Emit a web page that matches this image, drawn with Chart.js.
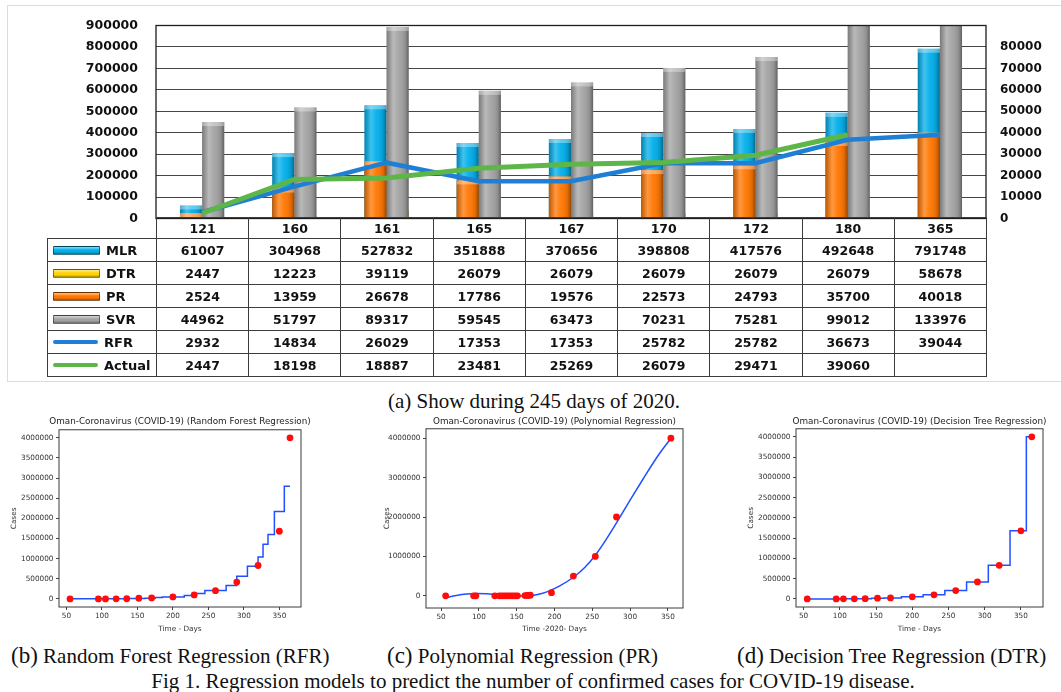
<!DOCTYPE html>
<html>
<head>
<meta charset="utf-8">
<script src="https://cdn.jsdelivr.net/npm/chart.js@4.4.1/dist/chart.umd.min.js"></script>
<style>
  body { margin: 0; width: 1061px; height: 692px; background: #fff; position: relative; overflow: hidden; font-family: "DejaVu Sans", sans-serif; }
  .abs { position: absolute; }
  #box { left: 7px; top: 5px; width: 1060px; height: 377px; border: 1.5px solid #dcdcdc; box-sizing: border-box; }
  #grid { left: 47px; top: 217px; width: 939px; border-collapse: collapse; table-layout: fixed; font: bold 12.5px "DejaVu Sans", sans-serif; color: #111; }
  #grid td { border: 1px solid #3c3c3c; text-align: center; padding: 0; height: 22px; white-space: nowrap; }
  #grid tr.head td { height: 20px; }
  #grid td.blank { border-top: none; border-left: none; }
  #grid td.name { text-align: left; padding-left: 5px; font-size: 13px; }
  .ico { display: inline-block; width: 45px; vertical-align: middle; margin-right: 6px; position: relative; top: -1px; }
  .cap { font-family: "Liberation Serif", "Times New Roman", serif; font-size: 21px; color: #111; white-space: nowrap; line-height: 24px; }
  .cap .tag { font-size: 23px; }
</style>
</head>
<body>
<div id="box" class="abs"></div>
<div class="abs" style="left:0;top:0;width:1061px;height:244px"><canvas id="top"></canvas></div>
<table id="grid" class="abs"></table>
<div class="abs cap" style="left:0;width:1068px;top:389px;text-align:center">(a) Show during 245 days of 2020.</div>

<div class="abs" style="left:0;top:400px;width:360px;height:240px"><canvas id="rfrChart"></canvas></div>
<div class="abs" style="left:376px;top:400px;width:357px;height:240px"><canvas id="prChart"></canvas></div>
<div class="abs" style="left:737px;top:400px;width:365px;height:240px"><canvas id="dtrChart"></canvas></div>

<div class="abs cap" style="left:11px;top:644px"><span class="tag">(b)</span> Random Forest Regression (RFR)</div>
<div class="abs cap" style="left:387px;top:644px"><span class="tag">(c)</span> Polynomial Regression (PR)</div>
<div class="abs cap" style="left:737px;top:644px"><span class="tag">(d)</span> Decision Tree Regression (DTR)</div>
<div class="abs cap" style="left:0;width:1066px;top:669px;text-align:center">Fig 1. Regression models to predict the number of confirmed cases for COVID-19 disease.</div>

<script>
// ── Data: comparison of models (panel a) ────────────────────────────
const days   = ['121', '160', '161', '165', '167', '170', '172', '180', '365'];
const mlr    = [61007, 304968, 527832, 351888, 370656, 398808, 417576, 492648, 791748];
const dtr    = [2447, 12223, 39119, 26079, 26079, 26079, 26079, 26079, 58678];
const pr     = [2524, 13959, 26678, 17786, 19576, 22573, 24793, 35700, 40018];
const svr    = [44962, 51797, 89317, 59545, 63473, 70231, 75281, 99012, 133976];
const rfr    = [2932, 14834, 26029, 17353, 17353, 25782, 25782, 36673, 39044];
const actual = [2447, 18198, 18887, 23481, 25269, 26079, 29471, 39060, null];
const leftTicks  = [0, 100000, 200000, 300000, 400000, 500000, 600000, 700000, 800000, 900000];
const rightTicks = [0, 10000, 20000, 30000, 40000, 50000, 60000, 70000, 80000];

// ── Data: regression plots (panels b, c, d) ─────────────────────────
const obsDays  = [55, 95, 105, 120, 135, 152, 170, 200, 230, 260, 290, 320, 350, 365];
const obsCases = [0, 500, 1000, 2500, 5000, 17000, 25000, 50000, 100000, 205000, 420000, 830000, 1680000, 4000000];

const rfrStepDays  = [55, 137, 160, 175, 185, 216, 230, 245, 275, 290, 305, 320, 327, 334, 343, 357, 365];
const rfrStepCases = [5000, 12000, 20000, 35000, 50000, 85000, 135000, 210000, 335000, 565000, 810000, 1040000, 1360000, 1600000, 2170000, 2800000, 2800000];

const dtrStepDays  = [55, 75, 100, 112.5, 127.5, 143.5, 161, 185, 215, 245, 275, 305, 335, 357.5, 365];
const dtrStepCases = [0, 500, 1000, 2500, 5000, 17000, 25000, 50000, 100000, 205000, 420000, 830000, 1680000, 4000000, 4000000];

const prDays  = [56, 93, 96, 121, 127, 130, 133, 136, 139, 142, 145, 148, 151, 161, 164, 166, 168, 196, 225, 254, 282, 354];
const prCases = [0, 0, 0, 0, 0, 0, 0, 0, 0, 0, 0, 0, 0, 5000, 8000, 12000, 15000, 80000, 500000, 1000000, 2000000, 4000000];
const prFitDays  = [56, 70, 84, 97, 110, 124, 137, 150, 163, 176, 190, 207, 225, 240, 254, 268, 282, 300, 318, 336, 354];
const prFitCases = [-51000, 10000, 48000, 58000, 50000, 28000, 8000, -6000, -6000, 25000, 100000, 250000, 470000, 717000, 1030000, 1420000, 1850000, 2430000, 2990000, 3530000, 4000000];

const smallXTicks = [50, 100, 150, 200, 250, 300, 350];
const halfMillionTicks = [0, 500000, 1000000, 1500000, 2000000, 2500000, 3000000, 3500000, 4000000];
const millionTicks = [0, 1000000, 2000000, 3000000, 4000000];

const colors = {
  MLR: '#00aeea', DTR: '#ffd200', PR: '#ff7600', SVR: '#a2a2a2', RFR: '#1f7fd4', Actual: '#5db648'
};

// ── Plugins ─────────────────────────────────────────────────────────
const framePlugin = {
  id: 'frame',
  afterDraw(chart, args, opts) {
    const a = chart.chartArea, ctx = chart.ctx;
    ctx.save();
    ctx.strokeStyle = opts.color || '#333';
    ctx.lineWidth = opts.width || 1;
    ctx.strokeRect(a.left, a.top, a.right - a.left, a.bottom - a.top);
    ctx.restore();
  }
};

// cylinder-like shading on top of each bar
const shadePlugin = {
  id: 'shade',
  afterDatasetDraw(chart, args) {
    const meta = args.meta;
    if (meta.type !== 'bar') return;
    const ctx = chart.ctx, a = chart.chartArea;
    ctx.save();
    ctx.beginPath();
    ctx.rect(a.left, a.top, a.right - a.left, a.bottom - a.top);
    ctx.clip();
    meta.data.forEach(el => {
      const p = el.getProps(['x', 'y', 'base', 'width'], true);
      const left = p.x - p.width / 2;
      const top = Math.min(p.y, p.base), h = Math.abs(p.base - p.y);
      const g = ctx.createLinearGradient(left, 0, left + p.width, 0);
      g.addColorStop(0, 'rgba(0,0,0,0.25)');
      g.addColorStop(0.3, 'rgba(255,255,255,0.25)');
      g.addColorStop(0.55, 'rgba(255,255,255,0.05)');
      g.addColorStop(0.85, 'rgba(0,0,0,0.12)');
      g.addColorStop(1, 'rgba(0,0,0,0.4)');
      ctx.fillStyle = g;
      ctx.fillRect(left, top, p.width, h);
      ctx.fillStyle = 'rgba(255,255,255,0.35)';
      ctx.fillRect(left, top, p.width, Math.min(4, h));
    });
    ctx.restore();
  }
};

// ── Panel (a): bars + lines ─────────────────────────────────────────
const boldTick = size => ({ family: 'DejaVu Sans', size: size, weight: 'bold' });

new Chart(document.getElementById('top'), {
  type: 'bar',
  data: {
    labels: days,
    datasets: [
      { label: 'Actual', type: 'line', data: actual, yAxisID: 'y1', borderColor: colors.Actual, borderWidth: 5, pointRadius: 0, tension: 0, order: 0 },
      { label: 'RFR', type: 'line', data: rfr, yAxisID: 'y1', borderColor: colors.RFR, borderWidth: 4.5, pointRadius: 0, tension: 0, order: 1 },
      { label: 'PR', data: pr, yAxisID: 'y1', stack: 'a', backgroundColor: colors.PR, order: 2 },
      { label: 'SVR', data: svr, yAxisID: 'y1', stack: 'b', backgroundColor: colors.SVR, order: 2 },
      { label: 'MLR', data: mlr, yAxisID: 'y', stack: 'a', backgroundColor: colors.MLR, order: 3 },
      { label: 'DTR', data: dtr, yAxisID: 'y', stack: 'b', backgroundColor: colors.DTR, order: 3 }
    ]
  },
  options: {
    animation: false,
    responsive: true,
    maintainAspectRatio: false,
    categoryPercentage: 0.48,
    barPercentage: 1,
    layout: { padding: { top: 25, bottom: 15, left: 0, right: 0 } },
    plugins: { legend: { display: false }, tooltip: { enabled: false }, frame: { color: '#1e1e1e', width: 1.3 } },
    scales: {
      x: { display: false },
      y: {
        position: 'left', min: 0, max: 900000, stacked: false,
        afterFit: s => { s.width = 156; },
        afterBuildTicks: s => { s.ticks = leftTicks.map(v => ({ value: v })); },
        grid: { color: '#454545', lineWidth: 1, drawTicks: false },
        border: { display: false },
        ticks: { padding: 18, color: '#111', font: boldTick(12.5), callback: v => String(v) }
      },
      y1: {
        position: 'right', min: 0, max: 90000, stacked: false,
        afterFit: s => { s.width = 75; },
        afterBuildTicks: s => { s.ticks = rightTicks.map(v => ({ value: v })); },
        grid: { display: false, drawTicks: false },
        border: { display: false },
        ticks: { padding: 14, color: '#111', font: boldTick(12), callback: v => String(v) }
      }
    }
  },
  plugins: [framePlugin, shadePlugin]
});

// ── Panel (a): data table under the chart ───────────────────────────
const tableRows = [
  { name: 'MLR', kind: 'bar', values: mlr },
  { name: 'DTR', kind: 'bar', values: dtr },
  { name: 'PR', kind: 'bar', values: pr },
  { name: 'SVR', kind: 'bar', values: svr },
  { name: 'RFR', kind: 'line', values: rfr },
  { name: 'Actual', kind: 'line', values: actual }
];

function iconHTML(row) {
  const c = colors[row.name];
  if (row.kind === 'line') {
    return `<span class="ico" style="height:4px;border-radius:2px;background:${c}"></span>`;
  }
  return `<span class="ico" style="height:7px;border:1px solid rgba(0,0,0,0.45);border-radius:1px;` +
    `background:linear-gradient(to bottom, rgba(255,255,255,0.55), ${c} 45%, ${c} 70%, rgba(0,0,0,0.35)), ${c}"></span>`;
}

const grid = document.getElementById('grid');
let html = '<colgroup><col style="width:109px">' + days.map(() => '<col style="width:92.22px">').join('') + '</colgroup>';
html += '<tr class="head"><td class="blank"></td>' + days.map(d => `<td>${d}</td>`).join('') + '</tr>';
tableRows.forEach(row => {
  html += `<tr><td class="name">${iconHTML(row)}${row.name}</td>` +
    row.values.map(v => `<td>${v === null ? '' : v}</td>`).join('') + '</tr>';
});
grid.innerHTML = html;

// ── Panels (b)(c)(d): matplotlib-like regression plots ──────────────
const pts = (xs, ys) => xs.map((x, i) => ({ x: x, y: ys[i] }));
const smallFont = size => ({ family: 'DejaVu Sans', size: size, weight: 'normal' });

// an empty right-hand axis as wide as the left one keeps the title centred over the axes
function regressionChart(id, opt) {
  return new Chart(document.getElementById(id), {
    type: 'line',
    data: { datasets: opt.datasets },
    options: {
      animation: false,
      responsive: true,
      maintainAspectRatio: false,
      layout: { padding: 0 },
      plugins: {
        legend: { display: false },
        tooltip: { enabled: false },
        title: { display: true, text: opt.title, color: '#222', font: smallFont(8.8), padding: { top: 16, bottom: opt.titleBottom } },
        frame: { color: '#3a3a3a', width: 1 }
      },
      scales: {
        x: {
          type: 'linear', min: opt.xMin, max: opt.xMax,
          afterFit: s => { s.height = opt.xHeight; },
          afterBuildTicks: s => { s.ticks = smallXTicks.map(v => ({ value: v })); },
          grid: { drawOnChartArea: false, drawTicks: true, tickLength: 3, color: '#444' },
          border: { display: false },
          ticks: { padding: 2, color: '#333', font: smallFont(7.3), maxRotation: 0 },
          title: { display: true, text: opt.xTitle, color: '#333', font: smallFont(7.3), padding: { top: 0, bottom: 7 } }
        },
        y: {
          min: opt.yMin, max: opt.yMax,
          afterFit: s => { s.width = opt.yWidth; },
          afterBuildTicks: s => { s.ticks = opt.yTicks.map(v => ({ value: v })); },
          grid: { drawOnChartArea: false, drawTicks: true, tickLength: 3, color: '#444' },
          border: { display: false },
          ticks: { padding: 2.5, color: '#333', font: smallFont(7.3), callback: v => String(v) },
          title: { display: true, text: 'Cases', color: '#333', font: smallFont(7.3), padding: { top: opt.yTitlePad, bottom: 0 } }
        },
        spacer: {
          position: 'right',
          afterFit: s => { s.width = opt.yWidth; },
          ticks: { display: false },
          grid: { display: false, drawTicks: false },
          border: { display: false }
        }
      }
    },
    plugins: [framePlugin]
  });
}

const redDots = (xs, ys) => ({ data: pts(xs, ys), showLine: false, pointRadius: 3.4, pointBorderWidth: 0, pointBackgroundColor: '#ff0d0d', order: 0 });
const blueLine = (xs, ys, extra) => Object.assign({ data: pts(xs, ys), borderColor: '#2050ff', borderWidth: 1.5, pointRadius: 0, order: 1 }, extra);

regressionChart('rfrChart', {
  title: 'Oman-Coronavirus (COVID-19) (Random Forest Regression)',
  xTitle: 'Time - Days',
  datasets: [redDots(obsDays, obsCases), blueLine(rfrStepDays, rfrStepCases, { stepped: true })],
  xMin: 39.5, xMax: 380.5, yMin: -200000, yMax: 4200000, yTicks: halfMillionTicks,
  yWidth: 59, xHeight: 33, titleBottom: 3.2, yTitlePad: 10
});

regressionChart('prChart', {
  title: 'Oman-Coronavirus (COVID-19) (Polynomial Regression)',
  xTitle: 'Time -2020- Days',
  datasets: [redDots(prDays, prCases), blueLine(prFitDays, prFitCases, { cubicInterpolationMode: 'monotone' })],
  xMin: 30, xMax: 370, yMin: -310000, yMax: 4240000, yTicks: millionTicks,
  yWidth: 50, xHeight: 32, titleBottom: 2.2, yTitlePad: 7
});

regressionChart('dtrChart', {
  title: 'Oman-Coronavirus (COVID-19) (Decision Tree Regression)',
  xTitle: 'Time - Days',
  datasets: [redDots(obsDays, obsCases), blueLine(dtrStepDays, dtrStepCases, { stepped: true })],
  xMin: 39.5, xMax: 380.5, yMin: -200000, yMax: 4200000, yTicks: halfMillionTicks,
  yWidth: 59, xHeight: 33, titleBottom: 2.2, yTitlePad: 10
});
</script>
</body>
</html>
